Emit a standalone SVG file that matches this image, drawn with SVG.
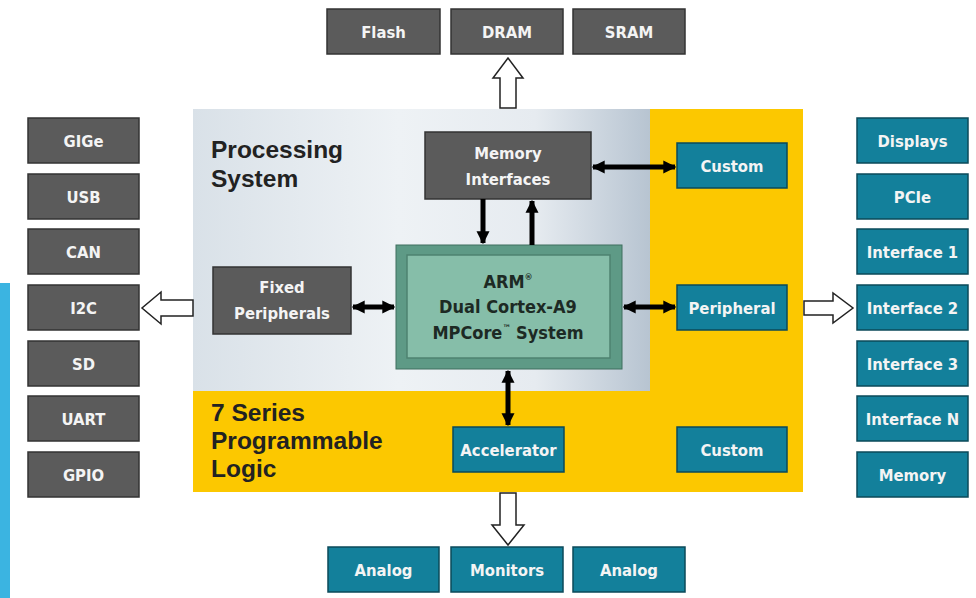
<svg xmlns="http://www.w3.org/2000/svg" width="976" height="598" viewBox="0 0 976 598">
<defs>
<linearGradient id="psGrad" x1="0" y1="0" x2="1" y2="0">
<stop offset="0" stop-color="#d9e1e8"/>
<stop offset="0.45" stop-color="#eef2f5"/>
<stop offset="0.75" stop-color="#e6ebf0"/>
<stop offset="1" stop-color="#b7c4d1"/>
</linearGradient>
<marker id="ah" viewBox="0 0 10 10" refX="9" refY="5" markerUnits="userSpaceOnUse" markerWidth="13" markerHeight="17" orient="auto-start-reverse">
<path d="M0,0 L10,5 L0,10 Z" fill="#000"/>
</marker>
<style>
.g rect{fill:#5b5b5b;stroke:#333;stroke-width:1.5}
.t rect{fill:#13809b;stroke:#0b4a59;stroke-width:1.5}
.lbl{font-family:"Liberation Sans Narrow","DejaVu Sans Condensed","Liberation Sans",sans-serif;font-weight:bold;font-size:16.5px;fill:#f4f4f4;text-anchor:middle}
.big{font-family:"Liberation Sans","Arial",sans-serif;font-weight:bold;font-size:24.5px;fill:#222}
.arm{font-family:"Liberation Sans Narrow","DejaVu Sans Condensed","Liberation Sans",sans-serif;font-weight:bold;font-size:18px;fill:#1d2a24;text-anchor:middle}
.conn{stroke:#000;stroke-width:5;fill:none}
.hollow{fill:#fff;stroke:#222;stroke-width:1.5;stroke-linejoin:miter}
</style>
</defs>
<rect x="0" y="0" width="976" height="598" fill="#fff"/>
<rect x="0" y="283" width="10" height="315" fill="#3bb4e1"/>

<g id="pl-region">
<rect x="193" y="109" width="610" height="383" fill="#fcc800"/>
</g>
<g id="ps-region">
<rect x="193" y="109" width="457" height="282" fill="url(#psGrad)"/>
<text class="big" x="211" y="158">Processing</text>
<text class="big" x="211" y="187">System</text>
</g>
<g id="pl-label">
<text class="big" x="211" y="421">7 Series</text>
<text class="big" x="211" y="449">Programmable</text>
<text class="big" x="211" y="477">Logic</text>
</g>

<g id="flash" class="g"><rect x="327" y="9" width="113" height="45"/><text class="lbl" x="383.5" y="37.5">Flash</text></g>
<g id="dram" class="g"><rect x="451" y="9" width="112" height="45"/><text class="lbl" x="507" y="37.5">DRAM</text></g>
<g id="sram" class="g"><rect x="573" y="9" width="112" height="45"/><text class="lbl" x="629" y="37.5">SRAM</text></g>

<g id="gige" class="g"><rect x="28" y="118" width="111" height="45"/><text class="lbl" x="83.5" y="146.5">GIGe</text></g>
<g id="usb" class="g"><rect x="28" y="174" width="111" height="45"/><text class="lbl" x="83.5" y="202.5">USB</text></g>
<g id="can" class="g"><rect x="28" y="229" width="111" height="45"/><text class="lbl" x="83.5" y="257.5">CAN</text></g>
<g id="i2c" class="g"><rect x="28" y="285" width="111" height="45"/><text class="lbl" x="83.5" y="313.5">I2C</text></g>
<g id="sd" class="g"><rect x="28" y="341" width="111" height="45"/><text class="lbl" x="83.5" y="369.5">SD</text></g>
<g id="uart" class="g"><rect x="28" y="396" width="111" height="45"/><text class="lbl" x="83.5" y="424.5">UART</text></g>
<g id="gpio" class="g"><rect x="28" y="452" width="111" height="45"/><text class="lbl" x="83.5" y="480.5">GPIO</text></g>

<g id="displays" class="t"><rect x="857" y="118" width="111" height="45"/><text class="lbl" x="912.5" y="146.5">Displays</text></g>
<g id="pcie" class="t"><rect x="857" y="174" width="111" height="45"/><text class="lbl" x="912.5" y="202.5">PCIe</text></g>
<g id="if1" class="t"><rect x="857" y="229" width="111" height="45"/><text class="lbl" x="912.5" y="257.5">Interface 1</text></g>
<g id="if2" class="t"><rect x="857" y="285" width="111" height="45"/><text class="lbl" x="912.5" y="313.5">Interface 2</text></g>
<g id="if3" class="t"><rect x="857" y="341" width="111" height="45"/><text class="lbl" x="912.5" y="369.5">Interface 3</text></g>
<g id="ifn" class="t"><rect x="857" y="396" width="111" height="45"/><text class="lbl" x="912.5" y="424.5">Interface N</text></g>
<g id="memory" class="t"><rect x="857" y="452" width="111" height="45"/><text class="lbl" x="912.5" y="480.5">Memory</text></g>

<g id="mem-if" class="g"><rect x="425" y="132" width="166" height="67"/><text class="lbl" x="508" y="159">Memory</text><text class="lbl" x="508" y="185">Interfaces</text></g>
<g id="fixed-periph" class="g"><rect x="213" y="267" width="138" height="67"/><text class="lbl" x="282" y="293">Fixed</text><text class="lbl" x="282" y="319">Peripherals</text></g>

<g id="arm">
<rect x="396" y="245" width="226" height="124" fill="#5e9a86" stroke="#3f6f5f" stroke-width="1"/>
<rect x="407" y="255" width="203" height="103" fill="#86bea9" stroke="#4e8270" stroke-width="1.5"/>
<text class="arm" x="508" y="288">ARM<tspan font-size="9" dy="-8">®</tspan></text>
<text class="arm" x="508" y="313">Dual Cortex-A9</text>
<text class="arm" x="508" y="339">MPCore<tspan font-size="9" dy="-8">™</tspan><tspan dy="8"> System</tspan></text>
</g>

<g id="custom1" class="t"><rect x="677" y="143" width="110" height="45"/><text class="lbl" x="732" y="171.5">Custom</text></g>
<g id="peripheral" class="t"><rect x="677" y="285" width="110" height="45"/><text class="lbl" x="732" y="313.5">Peripheral</text></g>
<g id="custom2" class="t"><rect x="677" y="427" width="110" height="45"/><text class="lbl" x="732" y="455.5">Custom</text></g>
<g id="accelerator" class="t"><rect x="453" y="427" width="111" height="45"/><text class="lbl" x="508.5" y="455.5">Accelerator</text></g>

<g id="analog1" class="t"><rect x="328" y="547" width="111" height="45"/><text class="lbl" x="383.5" y="575.5">Analog</text></g>
<g id="monitors" class="t"><rect x="451" y="547" width="112" height="45"/><text class="lbl" x="507" y="575.5">Monitors</text></g>
<g id="analog2" class="t"><rect x="573" y="547" width="112" height="45"/><text class="lbl" x="629" y="575.5">Analog</text></g>

<g id="connectors">
<line class="conn" x1="483" y1="199" x2="483" y2="243" marker-end="url(#ah)"/>
<line class="conn" x1="532" y1="245" x2="532" y2="201" marker-end="url(#ah)"/>
<line class="conn" x1="353" y1="307" x2="394" y2="307" marker-start="url(#ah)" marker-end="url(#ah)"/>
<line class="conn" x1="593" y1="167" x2="675" y2="167" marker-start="url(#ah)" marker-end="url(#ah)"/>
<line class="conn" x1="624" y1="307" x2="675" y2="307" marker-start="url(#ah)" marker-end="url(#ah)"/>
<line class="conn" x1="508" y1="371" x2="508" y2="425" marker-start="url(#ah)" marker-end="url(#ah)"/>
<path class="hollow" d="M500,108 L500,78 L493,78 L508,58 L523,78 L516,78 L516,108 Z"/>
<path class="hollow" d="M193,300 L161,300 L161,292 L142,308 L161,324 L161,316 L193,316 Z"/>
<path class="hollow" d="M804,301 L833,301 L833,293 L853,308 L833,323 L833,315 L804,315 Z"/>
<path class="hollow" d="M500,493 L500,525 L492,525 L508,545 L524,525 L516,525 L516,493 Z"/>
</g>
</svg>
